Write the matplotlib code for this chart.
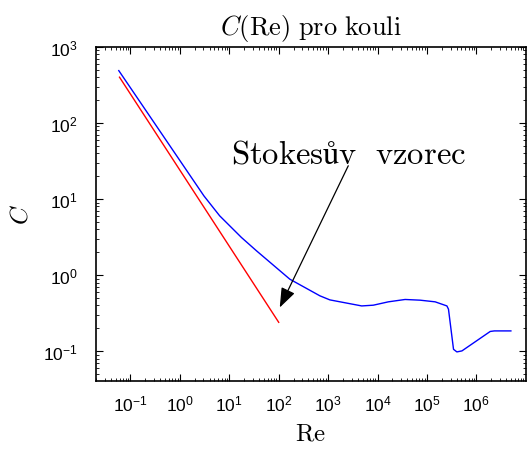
import numpy as np
import matplotlib
matplotlib.use("Agg")
import matplotlib.pyplot as plt
from matplotlib.ticker import LogLocator, NullFormatter

plt.rcParams['font.family'] = ['Liberation Sans', 'DejaVu Sans']
plt.rcParams['mathtext.fontset'] = 'cm'

# Blue curve: measured drag coefficient of a sphere
re_curve = [0.058, 3.07, 6.38, 17.6, 35.5, 168, 682, 1086, 4786, 8222,
            16560, 36140, 72780, 146600, 253500, 272900, 345100, 403600,
            510500, 1.91e6, 2.31e6, 5.0e6]
c_curve = [488, 11.0, 6.03, 3.13, 2.09, 0.885, 0.535, 0.473, 0.394, 0.403,
           0.446, 0.479, 0.469, 0.446, 0.394, 0.357, 0.106, 0.098,
           0.101, 0.182, 0.185, 0.185]

# Red line: Stokes formula C = 24/Re
re_stokes = [0.06, 100]
c_stokes = [400, 0.24]

xticks = [1e-1, 1e0, 1e1, 1e2, 1e3, 1e4, 1e5, 1e6]
yticks = [1e-1, 1e0, 1e1, 1e2, 1e3]
xlim = (0.02, 1e7)
ylim = (0.0407, 1000)

label_text = r'$\mathrm{Stokesův\ \ vzorec}$'
label_pos = (2600, 30.0)
arrow_tail = (2560, 27.4)
arrow_head = (105, 0.376)

fig = plt.figure(figsize=(5.30, 4.52), dpi=100)
ax = fig.add_axes([0.181, 0.155, 0.811, 0.739])

ax.loglog(re_curve, c_curve, color='#0000ff', lw=1.0)
ax.loglog(re_stokes, c_stokes, color='#ff0000', lw=1.0)

ax.set_xlim(*xlim)
ax.set_ylim(*ylim)
ax.set_xticks(xticks)
ax.set_yticks(yticks)
ax.xaxis.set_minor_locator(LogLocator(base=10, subs=np.arange(2, 10), numticks=20))
ax.yaxis.set_minor_locator(LogLocator(base=10, subs=np.arange(2, 10), numticks=20))
ax.xaxis.set_minor_formatter(NullFormatter())
ax.yaxis.set_minor_formatter(NullFormatter())

ax.tick_params(which='both', direction='in', top=True, right=True, labelsize=12.5)
ax.tick_params(which='major', length=5, width=0.8)
ax.tick_params(which='minor', length=2.5, width=0.6)
ax.tick_params(axis='x', which='major', pad=9)
ax.tick_params(axis='y', which='major', pad=13)
for s in ax.spines.values():
    s.set_linewidth(1.2)

ax.set_title(r'$C(\mathrm{Re})\ \mathrm{pro\ kouli}$', fontsize=19, pad=9)
ax.set_xlabel(r'$\mathrm{Re}$', fontsize=18, labelpad=5)
ax.set_ylabel(r'$C$', fontsize=18, labelpad=8)

ax.text(label_pos[0], label_pos[1], label_text, fontsize=23.5, ha='center', va='baseline')
ax.annotate('', xy=arrow_head, xytext=arrow_tail,
            arrowprops=dict(arrowstyle='-|>,head_length=1.2,head_width=0.45',
                            color='black', lw=0.9, shrinkA=0, shrinkB=0))

fig.savefig('out.png', dpi=100)
